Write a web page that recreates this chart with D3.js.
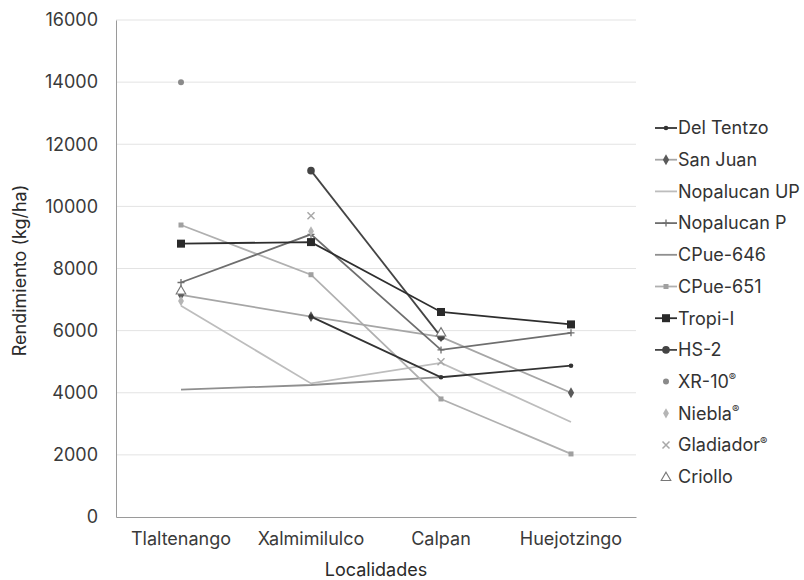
<!DOCTYPE html>
<html>
<head>
<meta charset="utf-8">
<script src="https://cdn.jsdelivr.net/npm/d3@7"></script>
<style>
  html, body { margin: 0; padding: 0; background: #fff; }
  svg { display: block; font-family: Inter, "Noto Sans", sans-serif; }
</style>
</head>
<body>
<svg id="chart" width="804" height="580"></svg>
<script>
// Localities (x categories)
const localidades = ["Tlaltenango", "Xalmimilulco", "Calpan", "Huejotzingo"];

// Yield per variety (kg/ha); null = not measured at that locality
const delTentzo   = [null, 6450, 4500, 4870];
const sanJuan     = [7150, 6450, 5800, 4000];
const nopalucanUP = [6800, 4300, 4960, 3060];
const nopalucanP  = [7550, 9100, 5380, 5930];
const cpue646     = [4100, 4250, 4500, null];
const cpue651     = [9400, 7800, 3800, 2030];
const tropiI      = [8800, 8850, 6600, 6200];
const hs2         = [null, 11150, 5800, null];
const xr10        = [14000, null, null, null];
const niebla      = [6950, 9200, null, null];
const gladiador   = [null, 9700, 5000, null];
const criollo     = [7300, null, 5950, null];

const yTicks = [0, 2000, 4000, 6000, 8000, 10000, 12000, 14000, 16000];

const seriesNames = ["Del Tentzo", "San Juan", "Nopalucan UP", "Nopalucan P", "CPue-646",
  "CPue-651", "Tropi-I", "HS-2", "XR-10", "Niebla", "Gladiador", "Criollo"];
const seriesValues = [delTentzo, sanJuan, nopalucanUP, nopalucanP, cpue646,
  cpue651, tropiI, hs2, xr10, niebla, gladiador, criollo];
const superscriptR = [false, false, false, false, false, false, false, false, true, true, true, false];

// Drawing style per series
const styles = [
  { line: "#333333", marker: "dot",      mfill: "#333333" },
  { line: "#a6a6a6", marker: "diamond",  mfill: "#5a5a5a" },
  { line: "#bdbdbd", marker: null },
  { line: "#6e6e6e", marker: "plus",     mfill: "#6e6e6e" },
  { line: "#8f8f8f", marker: null },
  { line: "#b0b0b0", marker: "smallsq",  mfill: "#a0a0a0" },
  { line: "#2e2e2e", marker: "square",   mfill: "#2a2a2a" },
  { line: "#444444", marker: "circle",   mfill: "#444444" },
  { line: null,      marker: "xr",       mfill: "#8a8a8a" },
  { line: null,      marker: "diamondL", mfill: "#b5b5b5" },
  { line: null,      marker: "cross",    mfill: "#a8a8a8" },
  { line: null,      marker: "triangle", mfill: "#ffffff" }
];

const svg = d3.select("#chart");
const margin = { left: 116, right: 168, top: 20, bottom: 63 };
const W = 804, H = 580;
const innerW = W - margin.left - margin.right;
const innerH = H - margin.top - margin.bottom;
const FS = 18;

const x = d3.scaleBand().domain(localidades).range([margin.left, margin.left + innerW]).padding(0);
const y = d3.scaleLinear().domain([0, 16000]).range([margin.top + innerH, margin.top]);
const cx = c => x(c) + x.bandwidth() / 2;

// Gridlines
svg.append("g").selectAll("line").data(yTicks.filter(t => t > 0)).join("line")
  .attr("x1", margin.left).attr("x2", margin.left + innerW)
  .attr("y1", d => y(d)).attr("y2", d => y(d))
  .attr("stroke", "#e3e3e3").attr("stroke-width", 1);

// Y axis
const yAxis = svg.append("g").attr("transform", `translate(${margin.left},0)`)
  .call(d3.axisLeft(y).tickValues(yTicks).tickFormat(d3.format("d")).tickSize(0).tickPadding(18));
yAxis.select(".domain").attr("stroke", "#9a9a9a");
yAxis.selectAll("text").attr("font-size", FS).attr("fill", "#3a3a3a").attr("font-family", "Inter, sans-serif");

// X axis
const xAxis = svg.append("g").attr("transform", `translate(0,${margin.top + innerH})`)
  .call(d3.axisBottom(x).tickSize(0).tickPadding(15));
xAxis.select(".domain").attr("stroke", "#9a9a9a");
xAxis.selectAll("text").attr("font-size", FS).attr("fill", "#3a3a3a").attr("font-family", "Inter, sans-serif");

// Axis titles
svg.append("text").attr("x", margin.left + innerW / 2).attr("y", 576)
  .attr("text-anchor", "middle").attr("font-size", FS).attr("fill", "#2a2a2a")
  .text("Localidades");
svg.append("text").attr("transform", `translate(26,${margin.top + innerH / 2 + 2}) rotate(-90)`)
  .attr("text-anchor", "middle").attr("font-size", FS).attr("fill", "#2a2a2a")
  .text("Rendimiento (kg/ha)");

function drawMarker(g, type, px, py, fill) {
  switch (type) {
    case "dot":
      g.append("circle").attr("cx", px).attr("cy", py).attr("r", 2.3).attr("fill", fill); break;
    case "circle":
      g.append("circle").attr("cx", px).attr("cy", py).attr("r", 3.8).attr("fill", fill); break;
    case "xr":
      g.append("circle").attr("cx", px).attr("cy", py).attr("r", 3).attr("fill", fill); break;
    case "square":
      g.append("rect").attr("x", px - 4).attr("y", py - 4).attr("width", 8).attr("height", 8).attr("fill", fill); break;
    case "smallsq":
      g.append("rect").attr("x", px - 2.5).attr("y", py - 2.5).attr("width", 5).attr("height", 5).attr("fill", fill); break;
    case "diamond":
      g.append("path").attr("d", d3.symbol(d3.symbolDiamond, 34)()).attr("transform", `translate(${px},${py})`).attr("fill", fill); break;
    case "diamondL":
      g.append("path").attr("d", d3.symbol(d3.symbolDiamond, 30)()).attr("transform", `translate(${px},${py})`).attr("fill", fill); break;
    case "plus":
      g.append("path").attr("d", `M${px - 3.5},${py}H${px + 3.5}M${px},${py - 3.5}V${py + 3.5}`).attr("stroke", fill).attr("stroke-width", 1.3); break;
    case "cross":
      g.append("path").attr("d", `M${px - 3.5},${py - 3.5}L${px + 3.5},${py + 3.5}M${px - 3.5},${py + 3.5}L${px + 3.5},${py - 3.5}`).attr("stroke", fill).attr("stroke-width", 1.5); break;
    case "triangle":
      g.append("path").attr("d", d3.symbol(d3.symbolTriangle, 40)()).attr("transform", `translate(${px},${py + 1})`)
        .attr("fill", "#fff").attr("stroke", "#777").attr("stroke-width", 1.1); break;
  }
}

// Series lines and markers
const plot = svg.append("g");
const lineGen = d3.line().defined(d => d.v !== null).x(d => cx(d.c)).y(d => y(d.v));
const drawOrder = [4, 2, 5, 1, 3, 0, 7, 6, 8, 9, 10, 11];
drawOrder.forEach(i => {
  const pts = localidades.map((c, j) => ({ c, v: seriesValues[i][j] }));
  const st = styles[i];
  if (st.line) {
    plot.append("path").datum(pts).attr("d", lineGen)
      .attr("fill", "none").attr("stroke", st.line).attr("stroke-width", 1.8);
  }
  if (st.marker) {
    pts.filter(p => p.v !== null).forEach(p => drawMarker(plot, st.marker, cx(p.c), y(p.v), st.mfill));
  }
});

// Legend
const legend = svg.append("g");
seriesNames.forEach((name, i) => {
  const ly = 128 + i * 31.7;
  const st = styles[i];
  if (st.line) {
    legend.append("line").attr("x1", 655).attr("x2", 677).attr("y1", ly).attr("y2", ly)
      .attr("stroke", st.line).attr("stroke-width", 1.8);
  }
  if (st.marker) drawMarker(legend, st.marker, 666, ly, st.mfill);
  const t = legend.append("text").attr("x", 678).attr("y", ly).attr("dy", "0.35em")
    .attr("font-size", FS).attr("fill", "#333").text(name);
  if (superscriptR[i]) {
    t.append("tspan").attr("font-size", 11).attr("dy", "-0.6em").text("®");
  }
});
</script>
</body>
</html>
